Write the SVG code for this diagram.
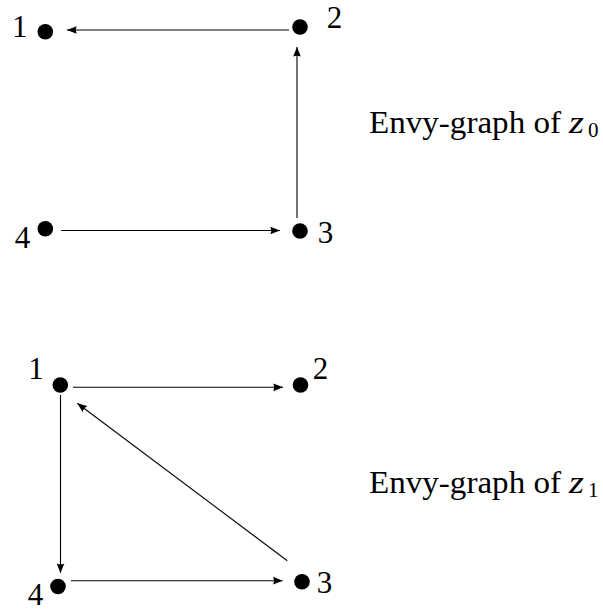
<svg xmlns="http://www.w3.org/2000/svg" width="603" height="611" viewBox="0 0 603 611">
<style>
.dot{fill:#000}
.lbl{font-family:"Liberation Serif","Times New Roman",serif;font-size:31px;fill:#000}
.cap{font-family:"Liberation Serif","Times New Roman",serif;font-size:31px;fill:#000}
.sub{font-family:"Liberation Serif","Times New Roman",serif;font-size:21px;fill:#000}
.edge{stroke:#000;stroke-width:1.1;fill:none;marker-end:url(#ah)}
</style>
<defs>
<marker id="ah" markerUnits="userSpaceOnUse" markerWidth="12" markerHeight="10" viewBox="-9 -4 10 8" refX="0" refY="0" orient="auto">
<path d="M0,0 L-8,-3.2 Q-6.5,0 -8,3.2 Z" fill="#000"/>
</marker>
</defs>
<rect width="603" height="611" fill="#fff"/>
<g id="connectors">
<line class="edge" x1="289" y1="30" x2="67" y2="30"/>
<line class="edge" x1="297" y1="218" x2="297" y2="47"/>
<line class="edge" x1="61" y1="230.5" x2="280" y2="230.5"/>
<line class="edge" x1="73" y1="387.3" x2="283" y2="387.3"/>
<line class="edge" x1="60.5" y1="395" x2="60.5" y2="573"/>
<line class="edge" x1="287.3" y1="560.7" x2="77.3" y2="403.3"/>
<line class="edge" x1="71" y1="580.7" x2="282.7" y2="580.7"/>
</g>
<g id="g0-n1"><circle class="dot" cx="45.3" cy="31.7" r="7.8"/><text class="lbl" x="19.7" y="36.7" text-anchor="middle">1</text></g>
<g id="g0-n2"><circle class="dot" cx="300" cy="27" r="7.8"/><text class="lbl" x="334.5" y="27.5" text-anchor="middle">2</text></g>
<g id="g0-n3"><circle class="dot" cx="300" cy="231" r="7.8"/><text class="lbl" x="325.5" y="243.3" text-anchor="middle">3</text></g>
<g id="g0-n4"><circle class="dot" cx="45.3" cy="228.8" r="7.8"/><text class="lbl" x="22.5" y="247.7" text-anchor="middle">4</text></g>
<g id="g0-caption"><text class="cap" x="369" y="133.3" textLength="192" lengthAdjust="spacingAndGlyphs">Envy-graph of</text><text class="cap" x="569" y="133.3" font-style="italic" textLength="15" lengthAdjust="spacingAndGlyphs">z</text><text class="sub" x="588" y="137">0</text></g>
<g id="g1-n1"><circle class="dot" cx="60.3" cy="385" r="7.8"/><text class="lbl" x="36" y="379" text-anchor="middle">1</text></g>
<g id="g1-n2"><circle class="dot" cx="300.5" cy="385" r="7.8"/><text class="lbl" x="320.5" y="379" text-anchor="middle">2</text></g>
<g id="g1-n3"><circle class="dot" cx="302" cy="581.7" r="7.8"/><text class="lbl" x="324.5" y="593" text-anchor="middle">3</text></g>
<g id="g1-n4"><circle class="dot" cx="58" cy="586.5" r="7.8"/><text class="lbl" x="35.5" y="605" text-anchor="middle">4</text></g>
<g id="g1-caption"><text class="cap" x="369" y="493.3" textLength="192" lengthAdjust="spacingAndGlyphs">Envy-graph of</text><text class="cap" x="569" y="493.3" font-style="italic" textLength="15" lengthAdjust="spacingAndGlyphs">z</text><text class="sub" x="588" y="497">1</text></g>
</svg>
